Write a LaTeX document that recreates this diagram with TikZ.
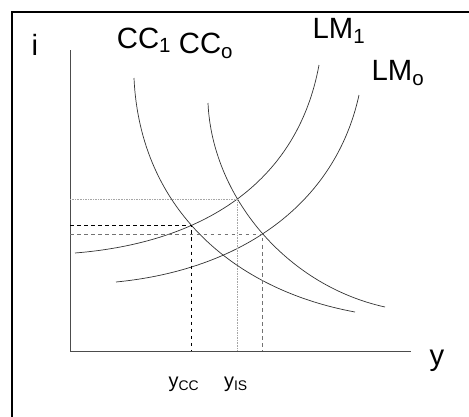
\documentclass[tikz,border=0pt]{standalone}
\usepackage{fontspec}
\setmainfont{Liberation Sans}
\usetikzlibrary{intersections}
\begin{document}
\begin{tikzpicture}[x=0.03cm,y=-0.03cm,
    curve/.style={semithick, black!80},
    biglabel/.style={font=\fontsize{25}{27}\selectfont, inner sep=0pt},
    smalllabel/.style={font=\fontsize{17}{19}\selectfont, inner sep=0pt}]
    \useasboundingbox (0,0) rectangle (469,417);
    % frame
    \draw[line width=1.6pt] (12,417) -- (12,12) -- (469,12);
    % axes
    \coordinate (O) at (70,351);
    \coordinate (itop) at (70,50);
    \coordinate (yend) at (411,351);
    \draw[black!70, thick] (itop) -- (O) -- (yend);
    \node[biglabel] (ilab) at (35,45) {i};
    \node[biglabel] (ylab) at (437,361) {y};
    % CC curves
    \draw[curve, name path=cc1] (134,78) .. controls (140,210) and (235,290) .. (355,312);
    \draw[curve, name path=cco] (208,103) .. controls (212,195) and (285,285) .. (385,307);
    % LM curves
    \draw[curve, name path=lm1] (75,253) .. controls (200,243) and (297,185) .. (319,65);
    \draw[curve, name path=lmo] (116,282) .. controls (240,270) and (335,205) .. (359,95);
    % intersections
    \path[name intersections={of=cc1 and lm1, by=Ecc}];
    \path[name intersections={of=cco and lm1, by=Eis}];
    \path[name intersections={of=cco and lmo, by=Eo}];
    % guide lines
    \draw[black!35, densely dotted] (O |- Eis) -- (Eis) -- (Eis |- O);
    \draw[black!55, dashed, semithick] (O |- Eo) -- (Eo) -- (Eo |- O);
    \draw[black, dashed, semithick] (O |- Ecc) -- (Ecc) -- (Ecc |- O);
    % labels
    \node[biglabel] (cc1lab) at (144,40) {CC\textsubscript{1}};
    \node[biglabel] (ccolab) at (206,46) {CC\textsubscript{o}};
    \node[biglabel] (lm1lab) at (339,31) {LM\textsubscript{1}};
    \node[biglabel] (lmolab) at (398,73) {LM\textsubscript{o}};
    \node[smalllabel] (ycclab) at (184,384) {y\textsubscript{CC}};
    \node[smalllabel] (yislab) at (236,384) {y\textsubscript{IS}};
\end{tikzpicture}
\end{document}
